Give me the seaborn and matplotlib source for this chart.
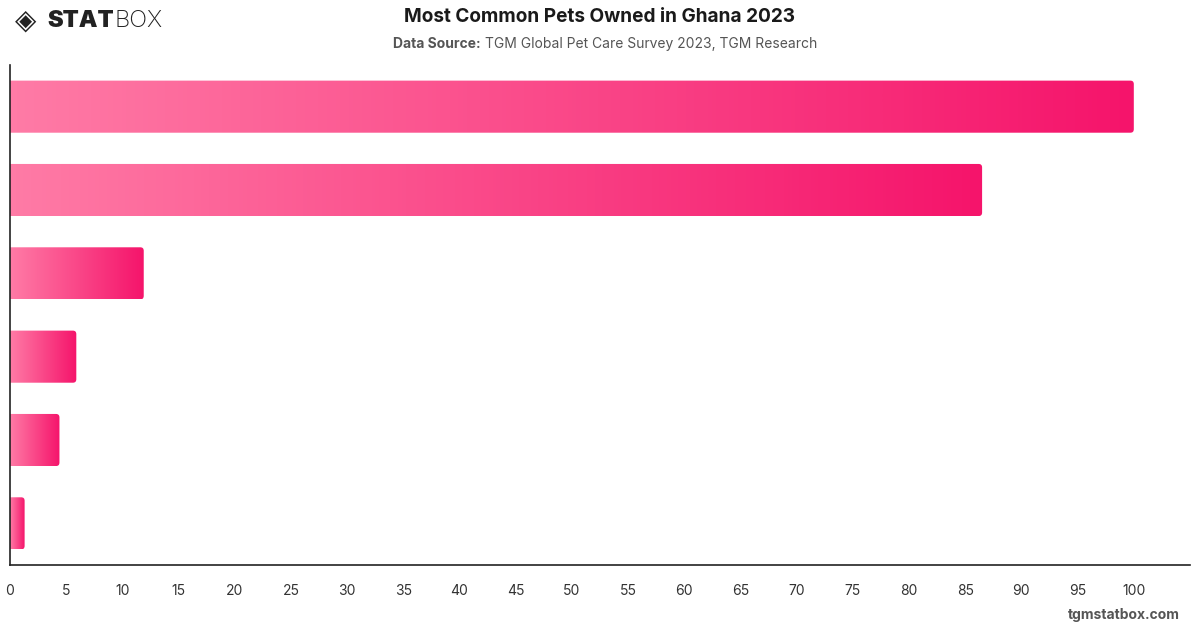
import numpy as np
import pandas as pd
import matplotlib
matplotlib.use('Agg')
import matplotlib.pyplot as plt
from matplotlib.colors import LinearSegmentedColormap
from matplotlib.patches import FancyBboxPatch
import seaborn as sns

# Datos (las etiquetas de categoria no se muestran)
pets = ['Pet 1', 'Pet 2', 'Pet 3', 'Pet 4', 'Pet 5', 'Pet 6']
share = [100, 86.5, 11.9, 5.9, 4.4, 1.3]
x_ticks = list(range(0, 101, 5))

df = pd.DataFrame({'pet': pets, 'share': share})

sns.set_theme(style='white')
plt.rcParams['font.family'] = ['Inter', 'DejaVu Sans']

fig = plt.figure(figsize=(12, 6.28), dpi=100)
ax = fig.add_axes([10 / 1200, 1 - 565 / 628, 1180 / 1200, 500 / 628])

sns.barplot(data=df, x='share', y='pet', orient='h', width=0.625,
            color='#f5146b', ax=ax)

# degradado rosa en cada barra
cmap = LinearSegmentedColormap.from_list('pink', ['#ff7ba6', '#f5146b'])
grad = np.linspace(0, 1, 256).reshape(1, -1)
for p in list(ax.patches):
    x0, y0 = p.get_x(), p.get_y()
    w, h = p.get_width(), p.get_height()
    p.set_visible(False)
    clip = FancyBboxPatch((x0 - 0.5, y0), w + 0.5, h,
                          boxstyle='round,pad=0,rounding_size=0.3',
                          mutation_aspect=0.14, transform=ax.transData,
                          facecolor='none', edgecolor='none')
    ax.add_patch(clip)
    im = ax.imshow(grad, cmap=cmap, aspect='auto', interpolation='bicubic',
                   extent=(x0, x0 + w, y0 + h, y0), zorder=2)
    im.set_clip_path(clip)

ax.set_xlim(0, 105)
ax.set_ylim(5.5, -0.5)
ax.set_xticks(x_ticks)
ax.set_xticklabels([str(t) for t in x_ticks], fontsize=10, color='#333333')
ax.tick_params(axis='x', length=0, pad=14)
ax.set_yticks([])
ax.set_xlabel('')
ax.set_ylabel('')
for s in ['top', 'right']:
    ax.spines[s].set_visible(False)
for s in ['left', 'bottom']:
    ax.spines[s].set_color('#222222')
    ax.spines[s].set_linewidth(1.2)

# titulos
fig.text(0.5, 1 - 17 / 628, 'Most Common Pets Owned in Ghana 2023',
         ha='center', va='center', fontsize=13.7, fontweight='bold',
         color='#1a1a1a')
fig.text(393 / 1200, 1 - 44 / 628, 'Data Source:', ha='left', va='center',
         fontsize=10, fontweight='bold', color='#555555')
fig.text(485 / 1200, 1 - 44 / 628,
         'TGM Global Pet Care Survey 2023, TGM Research',
         ha='left', va='center', fontsize=10, color='#555555')

# logo
fig.text(15 / 1200, 1 - 21 / 628, '\u25c8', ha='left', va='center',
         fontsize=20, color='#222222', family='DejaVu Sans')
stat = fig.text(47 / 1200, 1 - 21 / 628, 'STAT', ha='left', va='center',
                fontsize=17, fontweight='black', color='#222222')
fig.canvas.draw()
bb = stat.get_window_extent()
fig.text(bb.x1 / 1200 + 1 / 1200, 1 - 21 / 628, 'BOX', ha='left', va='center',
         fontsize=17, fontweight='light', color='#222222')

fig.text(1180 / 1200, 1 - 615 / 628, 'tgmstatbox.com', ha='right',
         va='center', fontsize=10, fontweight='bold', color='#555555')

fig.savefig('out.png', dpi=100, facecolor='white')
